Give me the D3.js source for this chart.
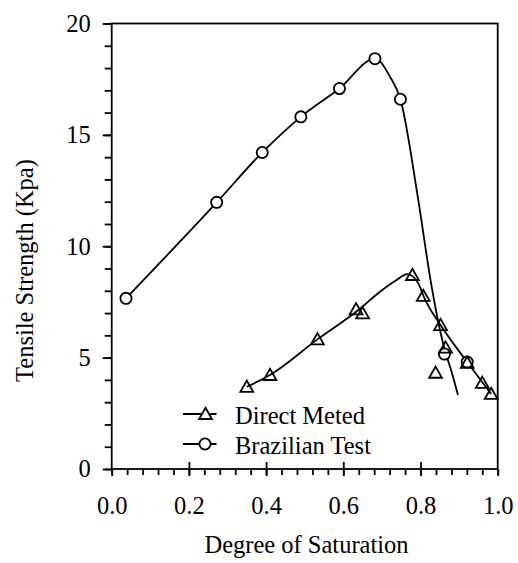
<!DOCTYPE html>
<html>
<head>
<meta charset="utf-8">
<script src="https://cdn.jsdelivr.net/npm/d3@7"></script>
<style>
  html, body { margin: 0; padding: 0; background: #fff; }
  svg text { font-family: "Liberation Serif", "Times New Roman", Times, serif; fill: #000; }
</style>
</head>
<body>
<svg id="chart" width="518" height="563" font-family="Liberation Serif, Times New Roman, serif"></svg>
<script>
// Measured tensile strength (kPa) against degree of saturation
const saturationDirect = [0.350, 0.410, 0.533, 0.633, 0.650, 0.779, 0.807, 0.839, 0.852, 0.865, 0.921, 0.960, 0.983];
const strengthDirect   = [3.69, 4.22, 5.82, 7.17, 6.99, 8.71, 7.77, 4.32, 6.46, 5.45, 4.77, 3.87, 3.37];

const saturationBrazil = [0.037, 0.272, 0.390, 0.490, 0.590, 0.682, 0.748, 0.862, 0.921];
const strengthBrazil   = [7.66, 11.97, 14.21, 15.81, 17.08, 18.42, 16.60, 5.16, 4.80];

// Fitted trend curves
const directFitX = [0.350, 0.410, 0.533, 0.640, 0.695, 0.738, 0.765, 0.779, 0.799, 0.807, 0.852, 0.921, 0.983];
const directFitY = [3.69, 4.22, 5.82, 7.15, 7.96, 8.48, 8.75, 8.66, 8.16, 7.80, 6.46, 4.80, 3.37];

const brazilFitX = [0.037, 0.272, 0.390, 0.490, 0.590, 0.682, 0.721, 0.748, 0.794, 0.826, 0.846, 0.862, 0.880, 0.897];
const brazilFitY = [7.66, 11.97, 14.21, 15.81, 17.08, 18.42, 17.61, 16.60, 12.10, 8.48, 6.61, 5.40, 4.40, 3.32];

// Axis ticks
const xMajor = [0, 0.2, 0.4, 0.6, 0.8, 1.0];
const xMinor = d3.range(0, 1.0001, 0.04);
const yMajor = [0, 5, 10, 15, 20];
const yMinor = d3.range(0, 20.001, 1);

const seriesNames = ["Direct Meted", "Brazilian Test"];

const margin = { left: 111.7, top: 23.5, right: 20.3, bottom: 94 };
const W = 518, H = 563;
const innerW = W - margin.left - margin.right;
const innerH = H - margin.top - margin.bottom;

const FONT_FAMILY = "Liberation Serif, Times New Roman, serif";
const FONT = 24.5;
const SW = 1.8;

const svg = d3.select("#chart");
const g = svg.append("g").attr("transform", `translate(${margin.left},${margin.top})`);

const x = d3.scaleLinear().domain([0, 1]).range([0, innerW]);
const y = d3.scaleLinear().domain([0, 20]).range([innerH, 0]);

function styleAxis(sel) {
  sel.attr("font-family", FONT_FAMILY).attr("font-size", FONT);
  sel.select(".domain").remove();
  sel.selectAll(".tick line").attr("stroke", "#000").attr("stroke-width", SW);
  sel.selectAll(".tick text").attr("font-size", FONT).attr("font-family", FONT_FAMILY).attr("fill", "#000");
}

// Y axis: minor and major outward ticks
g.append("g").call(d3.axisLeft(y).tickValues(yMinor).tickSize(7).tickFormat(""))
  .call(styleAxis);
g.append("g").call(d3.axisLeft(y).tickValues(yMajor).tickSize(9).tickPadding(12).tickFormat(d3.format("d")))
  .call(styleAxis);

// X axis: minor outward ticks, major ticks crossing the axis
g.append("g").attr("transform", `translate(0,${innerH})`)
  .call(d3.axisBottom(x).tickValues(xMinor).tickSize(6).tickFormat(""))
  .call(styleAxis);
g.append("g").attr("transform", `translate(0,${innerH})`)
  .call(d3.axisBottom(x).tickValues(xMajor).tickSize(7).tickPadding(21).tickFormat(d3.format(".1f")))
  .call(styleAxis);
g.append("g").attr("transform", `translate(0,${innerH})`)
  .call(d3.axisTop(x).tickValues(xMajor.slice(1, -1)).tickSize(7).tickFormat(""))
  .call(styleAxis);

// Plot frame
g.append("rect").attr("x", 0).attr("y", 0).attr("width", innerW).attr("height", innerH)
  .attr("fill", "none").attr("stroke", "#000").attr("stroke-width", SW);

// Fitted curves
const line = d3.line().x(d => x(d[0])).y(d => y(d[1])).curve(d3.curveMonotoneX);
g.append("path").datum(d3.zip(brazilFitX, brazilFitY))
  .attr("d", line).attr("fill", "none").attr("stroke", "#000").attr("stroke-width", SW);
g.append("path").datum(d3.zip(directFitX, directFitY))
  .attr("d", line).attr("fill", "none").attr("stroke", "#000").attr("stroke-width", SW);

// Marker shapes
const triPath = "M0,-6.2 L6.4,5 L-6.4,5 Z";
const circR = 5.6;

function drawCircle(sel, cx, cy) {
  sel.append("circle").attr("cx", cx).attr("cy", cy).attr("r", circR)
    .attr("fill", "#fff").attr("stroke", "#000").attr("stroke-width", SW);
}
function drawTri(sel, cx, cy) {
  sel.append("path").attr("d", triPath).attr("transform", `translate(${cx},${cy})`)
    .attr("fill", "none").attr("stroke", "#000").attr("stroke-width", SW);
}

d3.zip(saturationBrazil, strengthBrazil).forEach(d => drawCircle(g, x(d[0]), y(d[1])));
d3.zip(saturationDirect, strengthDirect).forEach(d => drawTri(g, x(d[0]), y(d[1])));

// Legend
const legend = svg.append("g");
const legendRows = [414, 444];
seriesNames.forEach((name, i) => {
  const ly = legendRows[i];
  legend.append("line").attr("x1", 183).attr("x2", 216.5).attr("y1", ly).attr("y2", ly)
    .attr("stroke", "#000").attr("stroke-width", SW);
  if (i === 0) {
    legend.append("path").attr("d", triPath).attr("transform", `translate(205.5,${ly})`)
      .attr("fill", "#fff").attr("stroke", "#000").attr("stroke-width", SW);
  } else {
    drawCircle(legend, 205, ly);
  }
  legend.append("text").attr("x", 235).attr("y", ly + 9.5)
    .attr("font-family", FONT_FAMILY).attr("font-size", FONT).text(name);
});

// Axis titles
svg.append("text").attr("x", 306.5).attr("y", 553).attr("text-anchor", "middle")
  .attr("font-family", FONT_FAMILY).attr("font-size", FONT).text("Degree of Saturation");
svg.append("text").attr("transform", "translate(33,270.5) rotate(-90)").attr("text-anchor", "middle")
  .attr("font-family", FONT_FAMILY).attr("font-size", FONT).text("Tensile Strength (Kpa)");
</script>
</body>
</html>
